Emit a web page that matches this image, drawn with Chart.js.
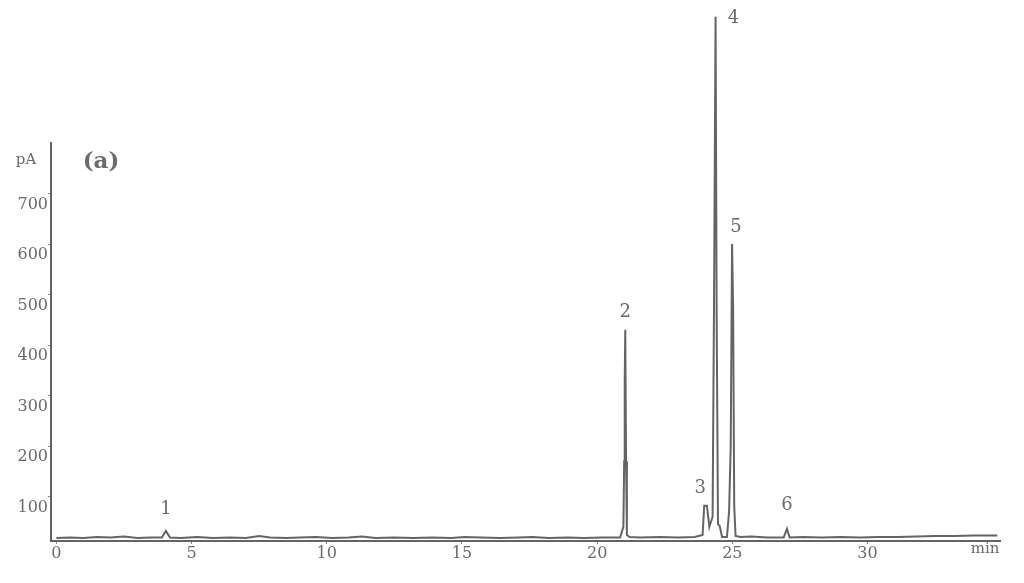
<!DOCTYPE html>
<html lang="en">
<head>
<meta charset="UTF-8">
<title>Chromatogram (a)</title>
<script src="https://cdn.jsdelivr.net/npm/chart.js"></script>
<style>
  html, body { margin: 0; padding: 0; background: #fff; }
</style>
</head>
<body>
<canvas id="chromChart" width="1024" height="583"></canvas>
<script>
// retention time (min) and detector signal (pA)
var retentionTimes = [0, 0.5, 1, 1.5, 2, 2.5, 3, 3.5, 3.9, 4.05, 4.2, 4.6, 5.2, 5.8, 6.4, 7.0, 7.5, 7.9,
  8.5, 9.0, 9.6, 10.2, 10.8, 11.3, 11.8, 12.5, 13.2, 13.9, 14.6, 15.1, 15.7, 16.4, 17.1, 17.6, 18.2,
  18.9, 19.5, 20.2, 20.85, 20.97, 21.0, 21.02, 21.04, 21.07, 21.1, 21.2, 21.6, 22.3, 23.0, 23.6, 23.9,
  23.96, 24.06, 24.15, 24.27, 24.32, 24.38, 24.42, 24.47, 24.53, 24.62, 24.8, 24.88, 24.94, 24.99,
  25.03, 25.07, 25.12, 25.3, 25.7, 26.3, 26.9, 27.02, 27.12, 27.6, 28.3, 29.0, 29.7, 30.4, 31.1, 31.8,
  32.5, 33.2, 33.9, 34.8];
var signalValues = [18, 19, 18, 20, 19, 21, 18, 19, 19, 32, 19, 18, 20, 18, 19, 18, 22, 19,
  18, 19, 20, 18, 19, 21, 18, 19, 18, 19, 18, 20, 19, 18, 19, 20, 18,
  19, 18, 19, 19, 40, 170, 330, 430, 170, 24, 20, 19, 20, 19, 20, 24,
  82, 82, 40, 60, 460, 1050, 460, 45, 42, 20, 20, 70, 200, 600,
  470, 80, 22, 20, 21, 19, 19, 36, 19, 20, 19, 20, 19, 20, 20, 21,
  22, 22, 23, 23];

var xTickValues = [0, 5, 10, 15, 20, 25, 30];
var yTickValues = [100, 200, 300, 400, 500, 600, 700];

var peakNames = ['1', '2', '3', '4', '5', '6'];
var peakTimes = [4.05, 21.04, 24.0, 24.38, 24.99, 27.02];
var peakSignals = [32, 430, 82, 1050, 600, 36];

var inkColor = '#646464';
var textColor = '#6a6a6a';

// pixel offsets of each peak number from its peak top
var peakLabelShift = [[0, -22], [0, -18], [-5, -17], [18, 2], [4, -17], [0, -24]];

var points = retentionTimes.map(function (t, i) {
  return { x: t, y: signalValues[i] };
});

var textPlugin = {
  id: 'chromText',
  afterDraw: function (chart) {
    var ctx = chart.ctx;
    var xs = chart.scales.x;
    var ys = chart.scales.y;
    ctx.save();
    ctx.fillStyle = textColor;
    ctx.textAlign = 'center';
    ctx.textBaseline = 'middle';

    ctx.font = '18px "DejaVu Serif"';
    peakNames.forEach(function (name, i) {
      var px = xs.getPixelForValue(peakTimes[i]) + peakLabelShift[i][0];
      var py = ys.getPixelForValue(peakSignals[i]) + peakLabelShift[i][1];
      ctx.fillText(name, px, py);
    });

    ctx.font = '15px "DejaVu Serif"';
    ctx.fillText('pA', 26, 160);
    ctx.fillText('min', 985, 549);

    ctx.font = 'bold 23px "DejaVu Serif"';
    ctx.fillText('(a)', 101, 162);
    ctx.restore();
  }
};

new Chart(document.getElementById('chromChart'), {
  type: 'line',
  data: {
    datasets: [{
      data: points,
      borderColor: inkColor,
      borderWidth: 2,
      pointRadius: 0,
      tension: 0,
      clip: false
    }]
  },
  options: {
    responsive: false,
    animation: false,
    layout: { padding: { left: 0, right: 24, top: 143, bottom: 0 } },
    plugins: { legend: { display: false }, tooltip: { enabled: false } },
    scales: {
      x: {
        type: 'linear',
        min: -0.2,
        max: 34.9,
        afterFit: function (scale) { scale.height = 42; },
        afterBuildTicks: function (scale) {
          scale.ticks = xTickValues.map(function (v) { return { value: v }; });
        },
        ticks: {
          color: textColor,
          font: { family: 'DejaVu Serif', size: 16 },
          padding: 0,
          maxRotation: 0,
          callback: function (v) { return v; }
        },
        grid: { drawOnChartArea: false, tickLength: 3, color: '#888' },
        border: { color: inkColor, width: 2 }
      },
      y: {
        min: 12,
        max: 800,
        afterFit: function (scale) { scale.width = 51; },
        afterBuildTicks: function (scale) {
          scale.ticks = yTickValues.map(function (v) { return { value: v }; });
        },
        ticks: {
          color: textColor,
          font: { family: 'DejaVu Serif', size: 16 },
          padding: 0,
          labelOffset: 11,
          callback: function (v) { return v; }
        },
        grid: { drawOnChartArea: false, tickLength: 3, color: '#888' },
        border: { color: inkColor, width: 2 }
      }
    }
  },
  plugins: [textPlugin]
});
</script>
</body>
</html>
